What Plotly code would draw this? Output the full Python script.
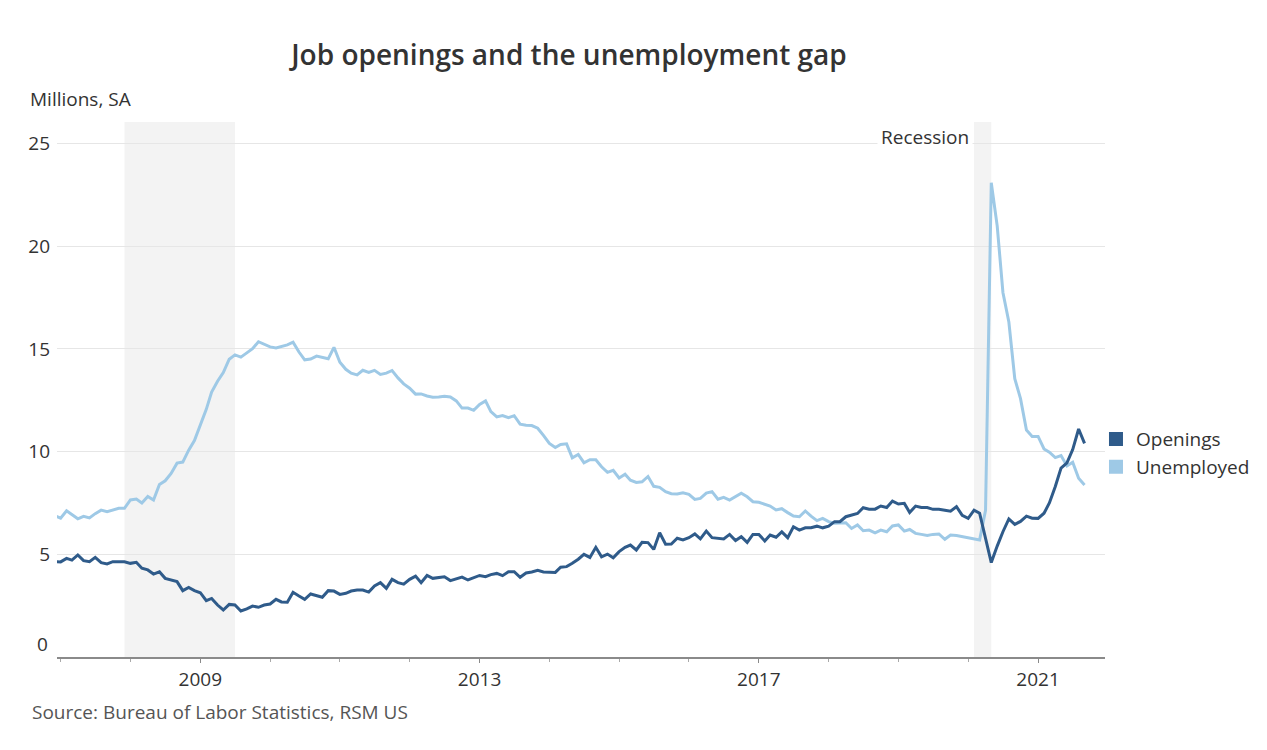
import pandas as pd
import plotly.graph_objects as go

# ---------------- data (millions, seasonally adjusted) ----------------
start_month = "2006-11-01"

unemployed_2006 = [6.88, 6.76]
unemployed_2007 = [7.12, 6.93, 6.73, 6.85, 6.77, 6.98, 7.15, 7.07, 7.17, 7.24, 7.24, 7.65]
unemployed_2008 = [7.69, 7.50, 7.82, 7.64, 8.40, 8.58, 8.94, 9.44, 9.49, 10.07, 10.54, 11.29]
unemployed_2009 = [12.06, 12.90, 13.43, 13.85, 14.50, 14.71, 14.60, 14.81, 15.01, 15.35, 15.22, 15.10]
unemployed_2010 = [15.05, 15.11, 15.20, 15.33, 14.85, 14.47, 14.51, 14.65, 14.58, 14.52, 15.08, 14.35]
unemployed_2011 = [14.01, 13.82, 13.74, 13.96, 13.86, 13.96, 13.76, 13.82, 13.95, 13.59, 13.30, 13.09]
unemployed_2012 = [12.80, 12.81, 12.71, 12.65, 12.66, 12.69, 12.66, 12.47, 12.12, 12.12, 12.01, 12.30]
unemployed_2013 = [12.47, 11.95, 11.69, 11.76, 11.65, 11.75, 11.34, 11.28, 11.27, 11.14, 10.79, 10.40]
unemployed_2014 = [10.20, 10.35, 10.38, 9.70, 9.86, 9.46, 9.61, 9.60, 9.26, 8.99, 9.09, 8.72]
unemployed_2015 = [8.90, 8.61, 8.50, 8.53, 8.79, 8.31, 8.26, 8.05, 7.95, 7.94, 8.00, 7.92]
unemployed_2016 = [7.67, 7.72, 7.98, 8.05, 7.68, 7.77, 7.64, 7.80, 7.97, 7.80, 7.56, 7.53]
unemployed_2017 = [7.45, 7.35, 7.16, 7.22, 7.03, 6.86, 6.83, 7.11, 6.86, 6.64, 6.75, 6.59]
unemployed_2018 = [6.51, 6.51, 6.54, 6.26, 6.43, 6.15, 6.18, 6.05, 6.18, 6.10, 6.38, 6.43]
unemployed_2019 = [6.13, 6.21, 6.02, 5.97, 5.92, 5.97, 5.99, 5.73, 5.94, 5.92, 5.86, 5.81]
unemployed_2020 = [5.73, 5.70, 7.14, 23.09, 20.99, 17.75, 16.31, 13.55, 12.58, 11.05, 10.74, 10.74]
unemployed_2021 = [10.13, 9.97, 9.71, 9.81, 9.30, 9.48, 8.70, 8.38]

openings_2006 = [4.64, 4.63]
openings_2007 = [4.80, 4.72, 4.97, 4.69, 4.64, 4.85, 4.59, 4.53, 4.64, 4.64, 4.64, 4.56]
openings_2008 = [4.61, 4.32, 4.24, 4.04, 4.15, 3.83, 3.75, 3.67, 3.23, 3.39, 3.23, 3.13]
openings_2009 = [2.74, 2.85, 2.53, 2.29, 2.56, 2.53, 2.24, 2.34, 2.48, 2.42, 2.53, 2.58]
openings_2010 = [2.81, 2.68, 2.67, 3.15, 2.97, 2.81, 3.07, 2.99, 2.91, 3.23, 3.21, 3.05]
openings_2011 = [3.10, 3.21, 3.26, 3.26, 3.16, 3.46, 3.62, 3.34, 3.78, 3.62, 3.55, 3.78]
openings_2012 = [3.94, 3.62, 3.97, 3.83, 3.86, 3.91, 3.72, 3.80, 3.89, 3.75, 3.86, 3.97]
openings_2013 = [3.91, 4.01, 4.07, 3.96, 4.15, 4.15, 3.88, 4.09, 4.14, 4.22, 4.14, 4.12]
openings_2014 = [4.12, 4.37, 4.40, 4.56, 4.76, 5.00, 4.85, 5.34, 4.88, 5.01, 4.83, 5.13]
openings_2015 = [5.34, 5.45, 5.21, 5.58, 5.57, 5.24, 6.05, 5.49, 5.50, 5.78, 5.70, 5.81]
openings_2016 = [5.99, 5.75, 6.13, 5.81, 5.78, 5.75, 5.97, 5.67, 5.86, 5.58, 5.97, 5.97]
openings_2017 = [5.65, 5.94, 5.83, 6.09, 5.81, 6.34, 6.18, 6.29, 6.29, 6.37, 6.29, 6.37]
openings_2018 = [6.59, 6.59, 6.83, 6.91, 6.99, 7.27, 7.20, 7.20, 7.35, 7.28, 7.59, 7.45]
openings_2019 = [7.48, 7.04, 7.35, 7.28, 7.28, 7.19, 7.19, 7.15, 7.10, 7.32, 6.90, 6.75]
openings_2020 = [7.15, 7.00, 5.85, 4.60, 5.40, 6.10, 6.72, 6.46, 6.60, 6.86, 6.76, 6.75]
openings_2021 = [7.00, 7.50, 8.30, 9.20, 9.45, 10.10, 11.10, 10.40]

recession_starts = ["2007-12-01", "2020-02-01"]
recession_ends = ["2009-07-01", "2020-05-01"]

y_tick_values = [5, 10, 15, 20, 25]
x_range = ["2006-12-13", "2021-12-17"]

unemployed = (unemployed_2006 + unemployed_2007 + unemployed_2008 + unemployed_2009
              + unemployed_2010 + unemployed_2011 + unemployed_2012 + unemployed_2013
              + unemployed_2014 + unemployed_2015 + unemployed_2016 + unemployed_2017
              + unemployed_2018 + unemployed_2019 + unemployed_2020 + unemployed_2021)
openings = (openings_2006 + openings_2007 + openings_2008 + openings_2009
            + openings_2010 + openings_2011 + openings_2012 + openings_2013
            + openings_2014 + openings_2015 + openings_2016 + openings_2017
            + openings_2018 + openings_2019 + openings_2020 + openings_2021)
months = pd.date_range(start_month, periods=len(openings), freq="MS")

DARK = "#2f5b8a"
LIGHT = "#9ec9e6"
FONT = "Open Sans"
TXT = "#333333"
FS = 19

fig = go.Figure()

fig.add_trace(go.Scatter(x=months, y=unemployed, mode="lines", name="Unemployed",
                         xperiod="M1", xperiodalignment="end",
                         line=dict(color=LIGHT, width=3), showlegend=False))
fig.add_trace(go.Scatter(x=months, y=openings, mode="lines", name="Openings",
                         xperiod="M1", xperiodalignment="end",
                         line=dict(color=DARK, width=3), showlegend=False))

# legend entries (square swatches)
fig.add_trace(go.Scatter(x=[None], y=[None], mode="markers", name="Openings",
                         marker=dict(symbol="square", size=14, color=DARK)))
fig.add_trace(go.Scatter(x=[None], y=[None], mode="markers", name="Unemployed",
                         marker=dict(symbol="square", size=14, color=LIGHT)))

for s, e in zip(recession_starts, recession_ends):
    fig.add_shape(type="rect", xref="x", yref="paper", x0=s, x1=e, y0=0, y1=1,
                  fillcolor="#f3f3f3", line=dict(width=0), layer="below")

fig.add_annotation(text="Recession", xref="x", yref="paper", x=recession_starts[1],
                   y=0.972, xanchor="right", yanchor="middle", xshift=-1,
                   showarrow=False, bgcolor="white", borderpad=3,
                   font=dict(family=FONT, size=FS, color=TXT))

fig.add_annotation(text="0", xref="paper", yref="paper", x=-0.0067, y=0.0243,
                   xanchor="right", yanchor="middle", showarrow=False,
                   font=dict(family=FONT, size=FS, color=TXT))

fig.add_annotation(text="Millions, SA", xref="paper", yref="paper", x=-0.0277, y=1.043,
                   xanchor="left", yanchor="middle", showarrow=False,
                   font=dict(family=FONT, size=FS, color=TXT))

fig.add_annotation(text="Source: Bureau of Labor Statistics, RSM US", xref="paper",
                   yref="paper", x=-0.0258, y=-0.1028, xanchor="left", yanchor="middle",
                   showarrow=False, font=dict(family=FONT, size=FS, color="#555555"))

fig.update_layout(
    width=1259, height=742,
    paper_bgcolor="white", plot_bgcolor="white",
    margin=dict(l=49, r=162, t=114, b=93, autoexpand=False),
    title=dict(text="Job openings and the unemployment gap", x=0.4456, xanchor="center",
               y=0.9367, yanchor="middle",
               font=dict(family=FONT, size=28, color=TXT, weight=600)),
    font=dict(family=FONT, color=TXT),
    legend=dict(x=0.9914, xanchor="left", y=0.381, yanchor="middle",
                font=dict(family=FONT, size=FS, color=TXT), itemwidth=30,
                bgcolor="rgba(0,0,0,0)", tracegroupgap=0),
    showlegend=True,
)

fig.update_xaxes(
    type="date", range=x_range, showgrid=False, zeroline=False,
    showline=True, linecolor="#8a8a8a", linewidth=1.5,
    tickmode="linear", tick0="2009-01-01", dtick="M48", tickformat="%Y",
    ticks="outside", ticklen=4, tickcolor="#8a8a8a",
    tickfont=dict(family=FONT, size=FS, color=TXT),
    minor=dict(tickmode="linear", tick0="2007-01-01", dtick="M12", ticks="outside",
               ticklen=3, tickcolor="#aaaaaa", showgrid=False),
)
fig.update_yaxes(
    range=[0, 26.05], tickmode="array", tickvals=y_tick_values,
    showgrid=True, gridcolor="#e6e6e6", gridwidth=1, zeroline=False,
    showline=False, ticks="", ticklabelstandoff=6,
    tickfont=dict(family=FONT, size=FS, color=TXT),
)

fig.write_html("out.html")
